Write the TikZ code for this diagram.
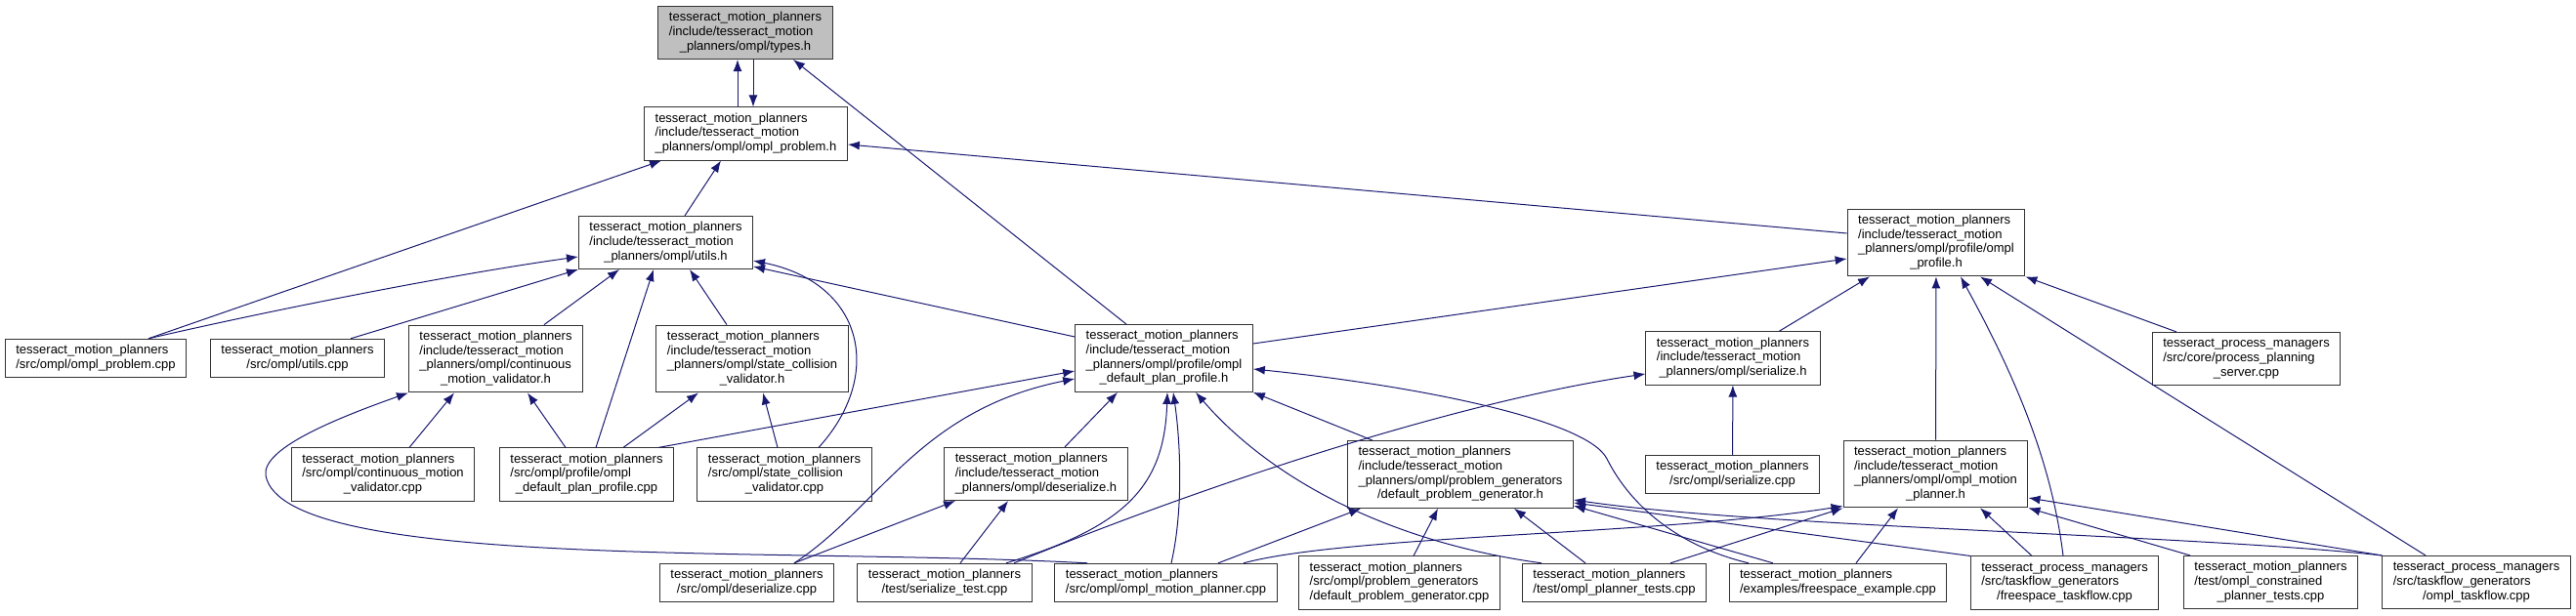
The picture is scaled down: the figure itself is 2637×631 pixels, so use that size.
\documentclass[tikz,border=0pt]{standalone}
\usepackage{fontspec}
\setmainfont{Liberation Sans}
\usetikzlibrary{arrows.meta}
\definecolor{midnight}{HTML}{191970}
\newcommand{\flines}[1]{\begin{tabular}{@{}l@{}}#1\end{tabular}}
\newcommand{\lastc}[1]{\multicolumn{1}{@{}c@{}}{#1}}

\begin{document}
\begin{tikzpicture}[x=1pt,y=-1pt,
        file/.style={draw=black!80,fill=white,line width=1pt,inner xsep=11pt,inner ysep=5pt,font=\fontsize{13}{14.7}\selectfont},
        incl/.style={midnight,line width=1pt,-{Latex[length=12pt,width=9pt]}}]
        \useasboundingbox (0,0) rectangle (2637,631);
        %headers on top
        \node[file,fill=black!25] (types) at (763,33.5) {\flines{tesseract\_motion\_planners\\/include/tesseract\_motion\\\lastc{\_planners/ompl/types.h}}};
        \node[file] (problemh) at (763.5,137) {\flines{tesseract\_motion\_planners\\/include/tesseract\_motion\\\lastc{\_planners/ompl/ompl\_problem.h}}};
        \node[file] (utilsh) at (681.5,248.5) {\flines{tesseract\_motion\_planners\\/include/tesseract\_motion\\\lastc{\_planners/ompl/utils.h}}};
        \node[file] (omplprofh) at (1982,248.5) {\flines{tesseract\_motion\_planners\\/include/tesseract\_motion\\\_planners/ompl/profile/ompl\\\lastc{\_profile.h}}};
        
        %middle row
        \node[file] (problemcpp) at (98,367) {\flines{tesseract\_motion\_planners\\\lastc{/src/ompl/ompl\_problem.cpp}}};
        \node[file] (utilscpp) at (304.5,367) {\flines{tesseract\_motion\_planners\\\lastc{/src/ompl/utils.cpp}}};
        \node[file] (cmvh) at (507.5,367.5) {\flines{tesseract\_motion\_planners\\/include/tesseract\_motion\\\_planners/ompl/continuous\\\lastc{\_motion\_validator.h}}};
        \node[file] (scvh) at (770,367.5) {\flines{tesseract\_motion\_planners\\/include/tesseract\_motion\\\_planners/ompl/state\_collision\\\lastc{\_validator.h}}};
        \node[file] (odpph) at (1191.5,367) {\flines{tesseract\_motion\_planners\\/include/tesseract\_motion\\\_planners/ompl/profile/ompl\\\lastc{\_default\_plan\_profile.h}}};
        \node[file] (serialh) at (1774,367) {\flines{tesseract\_motion\_planners\\/include/tesseract\_motion\\\lastc{\_planners/ompl/serialize.h}}};
        \node[file] (server) at (2299.5,367.5) {\flines{tesseract\_process\_managers\\/src/core/process\_planning\\\lastc{\_server.cpp}}};
        
        %row below
        \node[file] (cmvcpp) at (392,486) {\flines{tesseract\_motion\_planners\\/src/ompl/continuous\_motion\\\lastc{\_validator.cpp}}};
        \node[file] (odppcpp) at (600.5,486) {\flines{tesseract\_motion\_planners\\/src/ompl/profile/ompl\\\lastc{\_default\_plan\_profile.cpp}}};
        \node[file] (scvcpp) at (803,486) {\flines{tesseract\_motion\_planners\\/src/ompl/state\_collision\\\lastc{\_validator.cpp}}};
        \node[file] (deserialh) at (1060.5,485.5) {\flines{tesseract\_motion\_planners\\/include/tesseract\_motion\\\lastc{\_planners/ompl/deserialize.h}}};
        \node[file] (dpgh) at (1495,486) {\flines{tesseract\_motion\_planners\\/include/tesseract\_motion\\\_planners/ompl/problem\_generators\\\lastc{/default\_problem\_generator.h}}};
        \node[file] (serialcpp) at (1773.5,486) {\flines{tesseract\_motion\_planners\\\lastc{/src/ompl/serialize.cpp}}};
        \node[file] (plannerh) at (1981.5,485.5) {\flines{tesseract\_motion\_planners\\/include/tesseract\_motion\\\_planners/ompl/ompl\_motion\\\lastc{\_planner.h}}};
        
        %bottom row
        \node[file] (deserialcpp) at (764.5,597) {\flines{tesseract\_motion\_planners\\\lastc{/src/ompl/deserialize.cpp}}};
        \node[file] (serialtest) at (967,597) {\flines{tesseract\_motion\_planners\\\lastc{/test/serialize\_test.cpp}}};
        \node[file] (plannercpp) at (1193.5,597) {\flines{tesseract\_motion\_planners\\\lastc{/src/ompl/ompl\_motion\_planner.cpp}}};
        \node[file] (dpgcpp) at (1432.5,597) {\flines{tesseract\_motion\_planners\\/src/ompl/problem\_generators\\\lastc{/default\_problem\_generator.cpp}}};
        \node[file] (plannertests) at (1652.5,597) {\flines{tesseract\_motion\_planners\\\lastc{/test/ompl\_planner\_tests.cpp}}};
        \node[file] (freeexample) at (1881.5,597) {\flines{tesseract\_motion\_planners\\\lastc{/examples/freespace\_example.cpp}}};
        \node[file] (freetask) at (2113.5,597) {\flines{tesseract\_process\_managers\\/src/taskflow\_generators\\\lastc{/freespace\_taskflow.cpp}}};
        \node[file] (constrtests) at (2324.5,596.5) {\flines{tesseract\_motion\_planners\\/test/ompl\_constrained\\\lastc{\_planner\_tests.cpp}}};
        \node[file] (ompltask) at (2535,596.5) {\flines{tesseract\_process\_managers\\/src/taskflow\_generators\\\lastc{/ompl\_taskflow.cpp}}};
        
        %types.h and ompl_problem.h
        \draw[incl] ([xshift=-8.5pt]problemh.north) -- ([xshift=-8pt]types.south);
        \draw[incl] ([xshift=8pt]types.south) -- ([xshift=7.5pt]problemh.north);
        \draw[incl] ([xshift=-38.5pt]odpph.north) -- ([xshift=49pt]types.south);
        \draw[incl] ([xshift=54pt]problemcpp.north) -- ([xshift=-86.5pt]problemh.south);
        \draw[incl] ([xshift=19.5pt]utilsh.north) -- ([xshift=-25.5pt]problemh.south);
        \draw[incl] ([yshift=9.5pt]omplprofh.west) -- ([yshift=-11pt]problemh.east);
        
        %utils.h
        \draw[incl] ([xshift=54pt]problemcpp.north) .. controls (290,315) and (470,280) .. ([yshift=-14.5pt]utilsh.west);
        \draw[incl] ([xshift=54.5pt]utilscpp.north) -- (utilsh.south west);
        \draw[incl] ([xshift=49.5pt]cmvh.north) -- ([xshift=-47.5pt]utilsh.south);
        \draw[incl] ([xshift=9.5pt]odppcpp.north) -- ([xshift=-12.5pt]utilsh.south);
        \draw[incl] ([xshift=-26pt]scvh.north) -- ([xshift=24.5pt]utilsh.south);
        \draw[incl] ([xshift=35pt]scvcpp.north) .. controls (905,385) and (885,290) .. ([yshift=-18.5pt]utilsh.east);
        \draw[incl] ([yshift=22pt]odpph.west) -- ([yshift=-24.5pt]utilsh.east);
        
        %validators
        \draw[incl] ([xshift=27pt]cmvcpp.north) -- ([xshift=-42.5pt]cmvh.south);
        \draw[incl] ([xshift=-21.5pt]odppcpp.north) -- ([xshift=32.5pt]cmvh.south);
        \draw[incl] ([xshift=-80.5pt]plannercpp.north) .. controls (800,560) and (290,585) .. (272,487)
                                                      .. controls (268,460) and (340,430) .. (cmvh.south west);
        \draw[incl] ([xshift=37.5pt]odppcpp.north) -- ([xshift=-55pt]scvh.south);
        \draw[incl] ([xshift=-7pt]scvcpp.north) -- ([xshift=11pt]scvh.south);
        
        %ompl_default_plan_profile.h
        \draw[incl] ([xshift=73.5pt]odppcpp.north) -- ([yshift=-13pt]odpph.west);
        \draw[incl] ([xshift=48.5pt]deserialcpp.north) .. controls (900,520) and (940,420) .. ([yshift=-21pt]odpph.west);
        \draw[incl] ([xshift=29.5pt]deserialh.north) -- ([xshift=-47.5pt]odpph.south);
        \draw[incl] ([xshift=63pt]serialtest.north) .. controls (1150,540) and (1192,500) .. ([xshift=3.5pt]odpph.south);
        \draw[incl] ([xshift=5.5pt]plannercpp.north) .. controls (1212,520) and (1208,450) .. ([xshift=9.5pt]odpph.south);
        \draw[incl] ([xshift=-74.5pt]plannertests.north) .. controls (1420,555) and (1300,490) .. ([xshift=32.5pt]odpph.south);
        \draw[incl] ([xshift=-90pt]dpgh.north) -- (odpph.south east);
        \draw[incl] ([xshift=-91.5pt]freeexample.north) .. controls (1720,560) and (1670,520) .. (1645,470)
                                                       .. controls (1625,430) and (1450,395) .. ([yshift=-11pt]odpph.east);
        \draw[incl] ([yshift=15pt]odpph.east) -- ([yshift=-16.5pt]omplprofh.west);
        
        %deserialize.h and serialize.h
        \draw[incl] ([xshift=48.5pt]deserialcpp.north) -- ([xshift=-82.5pt]deserialh.south);
        \draw[incl] ([xshift=16pt]serialtest.north) -- ([xshift=-28.5pt]deserialh.south);
        \draw[incl] ([xshift=71pt]serialtest.north) .. controls (1250,490) and (1500,410) .. ([yshift=-16pt]serialh.west);
        \draw[incl] (serialcpp) -- (serialh);
        \draw[incl] ([xshift=47pt]serialh.north) -- ([xshift=-68pt]omplprofh.south);
        
        %ompl_profile.h
        \draw[incl] (plannerh) -- (omplprofh);
        \draw[incl] ([xshift=-1.5pt]freetask.north) .. controls (2100,470) and (2060,380) .. ([xshift=25pt]omplprofh.south);
        \draw[incl] ([xshift=-52pt]ompltask.north) -- ([xshift=45pt]omplprofh.south);
        \draw[incl] ([xshift=-71.5pt]server.north) -- (omplprofh.south east);
        
        %default_problem_generator.h
        \draw[incl] ([xshift=53.5pt]plannercpp.north) -- ([xshift=-102pt]dpgh.south);
        \draw[incl] ([xshift=14.5pt]dpgcpp.north) -- ([xshift=-23pt]dpgh.south);
        \draw[incl] ([xshift=-29.5pt]plannertests.north) -- ([xshift=55pt]dpgh.south);
        \draw[incl] ([xshift=-66.5pt]freeexample.north) -- ([yshift=-32pt]dpgh.east);
        \draw[incl] (freetask.north west) -- ([yshift=-29pt]dpgh.east);
        \draw[incl] (ompltask.north west) .. controls (2250,548) and (1800,540) .. ([yshift=-26pt]dpgh.east);
        
        %ompl_motion_planner.h
        \draw[incl] ([xshift=79.5pt]plannercpp.north) .. controls (1380,548) and (1700,548) .. ([yshift=2pt]plannerh.south west);
        \draw[incl] ([xshift=57.5pt]plannertests.north) -- (plannerh.south west);
        \draw[incl] ([xshift=18.5pt]freeexample.north) -- ([xshift=-38.5pt]plannerh.south);
        \draw[incl] ([xshift=-33.5pt]freetask.north) -- ([xshift=45.5pt]plannerh.south);
        \draw[incl] ([xshift=-82.5pt]constrtests.north) -- (plannerh.south east);
        \draw[incl] (ompltask.north west) -- ([yshift=-24.5pt]plannerh.east);
        
    \end{tikzpicture}
\end{document}
